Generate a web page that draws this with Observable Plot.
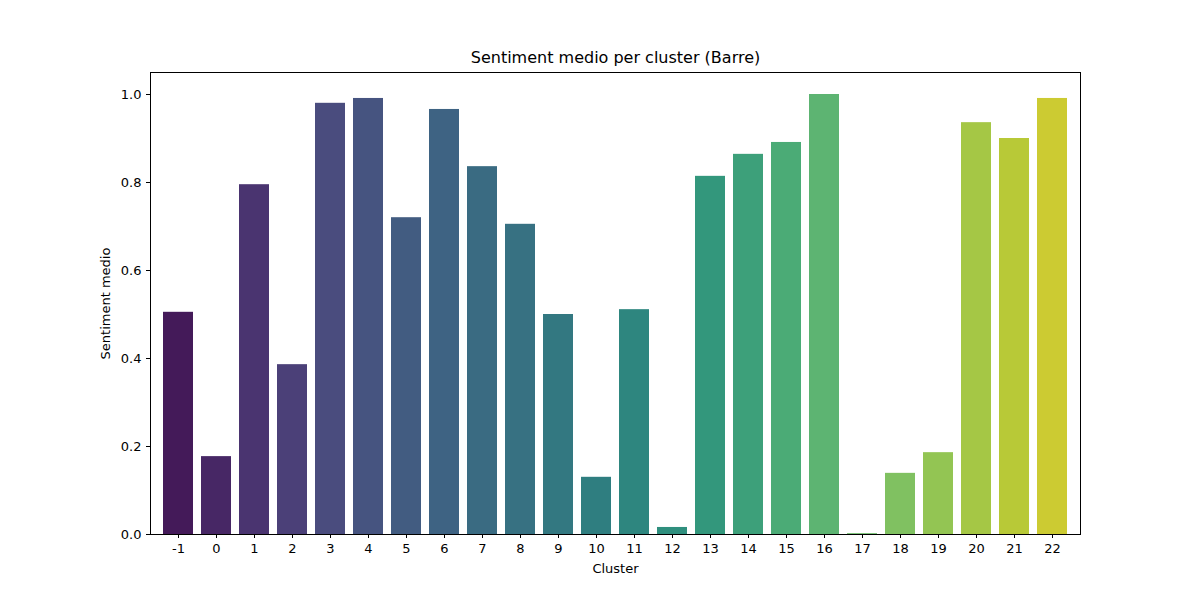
<!DOCTYPE html>
<html>
<head>
<meta charset="utf-8">
<script src="https://cdn.jsdelivr.net/npm/d3@7"></script>
<script src="https://cdn.jsdelivr.net/npm/@observablehq/plot@0.6"></script>
<style>body{margin:0;background:#fff}</style>
</head>
<body>
<div id="chart"></div>
<script>
const clusters = ["-1","0","1","2","3","4","5","6","7","8","9","10","11","12","13","14","15","16","17","18","19","20","21","22"];
const sentiment = [0.505,0.177,0.795,0.386,0.98,0.991,0.72,0.966,0.836,0.705,0.5,0.13,0.511,0.016,0.814,0.864,0.891,1.0,0.002,0.139,0.186,0.936,0.9,0.991];
const yTicks = [0, 0.2, 0.4, 0.6, 0.8, 1.0];

// seaborn-style viridis palette, slightly desaturated
const palette = clusters.map((c, i) => {
  const h = d3.hsl(d3.interpolateViridis((i + 1) / (clusters.length + 1)));
  h.s *= 0.75;
  return h.formatHex();
});

const data = clusters.map((c, i) => ({cluster: c, value: sentiment[i], color: palette[i]}));

const plot = Plot.plot({
  width: 1200,
  height: 600,
  marginLeft: 150,
  marginRight: 120,
  marginTop: 72,
  marginBottom: 66,
  style: {fontFamily: "DejaVu Sans", fontSize: "13px", color: "#000"},
  x: {domain: clusters, paddingInner: 0.2, paddingOuter: 0.1, label: "Cluster"},
  y: {domain: [0, 1.05], label: "Sentiment medio"},
  marks: [
    Plot.barY(data, {x: "cluster", y: "value", fill: "color"}),
    Plot.frame({stroke: "#000"}),
    Plot.axisX({tickSize: 4, fontSize: 13, label: "Cluster", labelArrow: "none", labelAnchor: "center", labelOffset: 38}),
    Plot.axisY({ticks: yTicks, tickFormat: d3.format(".1f"), tickSize: 4, fontSize: 13, label: "Sentiment medio", labelArrow: "none", labelAnchor: "center", labelOffset: 50}),
    Plot.text(["Sentiment medio per cluster (Barre)"], {frameAnchor: "top", dy: -21, fontSize: 16})
  ]
});
document.querySelector("#chart").append(plot);
</script>
</body>
</html>
